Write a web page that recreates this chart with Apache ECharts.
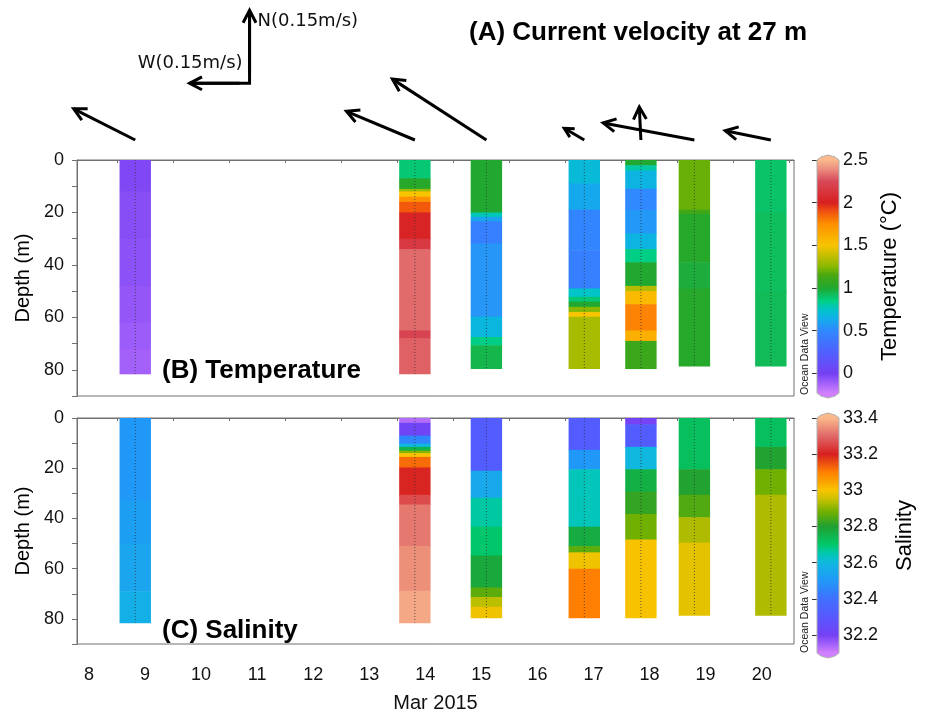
<!DOCTYPE html>
<html lang="en">
<head>
<meta charset="UTF-8">
<title>Current velocity, temperature and salinity - Mar 2015</title>
<script src="https://cdn.jsdelivr.net/npm/echarts@6.0.0/dist/echarts.min.js"></script>
<style>
    html, body { margin: 0; background: #fff; }
    #container { width: 928px; height: 714px; }
</style>
</head>
<body>
<div id="container"></div>
<script>
    // station times (day of Mar 2015) and bottom of each cast (m)
    const stationDay = [9.326, 14.314, 15.59, 17.336, 18.346, 19.30, 20.664];
    const castBottom = [81.5, 81.5, 79.5, 79.5, 79.5, 78.5, 78.5];

    // current at 27 m: east (u) and north (v) components, m/s
    const currentU = [-0.154, -0.171, -0.235, -0.05, -0.004, -0.228, -0.114];
    const currentV = [0.064, 0.059, 0.125, 0.024, 0.068, 0.035, 0.019];

    // temperature layers per station: [top depth, bottom depth, degC]
    const tempLayers = [
        [[0, 12, -0.03], [12, 30, -0.05], [30, 48, -0.06], [48, 62, -0.08], [62, 72, -0.1], [72, 81.5, -0.12]],
        [[0, 7, 0.88], [7, 11, 1.02], [11, 12, 1.3], [12, 14, 1.5], [14, 16, 1.75], [16, 20, 1.88], [20, 30, 2.02],
            [30, 34, 2.15], [34, 65, 2.32], [65, 68, 2.22], [68, 81.5, 2.3]],
        [[0, 20, 1.0], [20, 21.6, 0.78], [21.6, 23.5, 0.6], [23.5, 31.8, 0.45], [31.8, 59.8, 0.55], [59.8, 67.5, 0.68],
            [67.5, 70.6, 0.85], [70.6, 79.5, 0.95]],
        [[0, 8.9, 0.7], [8.9, 19, 0.62], [19, 34.4, 0.48], [34.4, 49, 0.45], [49, 52.2, 0.75], [52.2, 54, 0.88],
            [54, 56, 1.0], [56, 58, 1.25], [58, 59.8, 1.5], [59.8, 79.5, 1.32]],
        [[0, 2, 1.0], [2, 4, 0.8], [4, 11, 0.67], [11, 19, 0.5], [19, 28, 0.56], [28, 34, 0.67], [34, 39, 0.85],
            [39, 48, 1.0], [48, 50, 1.35], [50, 55, 1.55], [55, 65, 1.78], [65, 69, 1.6], [69, 79.5, 1.1]],
        [[0, 19, 1.2], [19, 20.5, 1.12], [20.5, 39, 1.02], [39, 49, 0.98], [49, 78.5, 1.02]],
        [[0, 20, 0.9], [20, 50, 0.92], [50, 78.5, 0.93]]
    ];

    // salinity layers per station: [top depth, bottom depth, salinity]
    const salLayers = [
        [[0, 33, 32.5], [33, 50, 32.52], [50, 69, 32.54], [69, 81.5, 32.57]],
        [[0, 1.9, 32.13], [1.9, 7, 32.22], [7, 10.2, 32.45], [10.2, 11.5, 32.6], [11.5, 13, 32.75], [13, 14, 32.9],
            [14, 15.5, 33.0], [15.5, 19.7, 33.12], [19.7, 30.6, 33.2], [30.6, 34.4, 33.26], [34.4, 51, 33.32],
            [51, 68.8, 33.35], [68.8, 81.5, 33.38]],
        [[0, 21, 32.32], [21, 31.8, 32.55], [31.8, 43.3, 32.66], [43.3, 54.8, 32.7], [54.8, 67.5, 32.78],
            [67.5, 71.3, 32.86], [71.3, 75.2, 32.94], [75.2, 79.5, 32.99]],
        [[0, 12.7, 32.32], [12.7, 20.4, 32.5], [20.4, 43.3, 32.64], [43.3, 51, 32.77], [51, 53.5, 32.86],
            [53.5, 60, 32.99], [60, 79.5, 33.1]],
        [[0, 2.5, 32.2], [2.5, 11.5, 32.32], [11.5, 20.4, 32.6], [20.4, 29.3, 32.76], [29.3, 38.2, 32.82],
            [38.2, 48.4, 32.88], [48.4, 79.5, 33.0]],
        [[0, 20.4, 32.72], [20.4, 30.6, 32.8], [30.6, 39.5, 32.85], [39.5, 49.7, 32.93], [49.7, 78.5, 32.98]],
        [[0, 11.5, 32.72], [11.5, 20.4, 32.8], [20.4, 30.6, 32.88], [30.6, 78.5, 32.93]]
    ];

    // axis ticks and labels
    const dayTicks = [9, 10, 11, 12, 13, 14, 15, 16, 17, 18, 19, 20, 21];
    const dayLabels = [8, 9, 10, 11, 12, 13, 14, 15, 16, 17, 18, 19, 20];
    const depthLabels = [0, 20, 40, 60, 80];
    const depthTicks = [0, 10, 20, 30, 40, 50, 60, 70, 80, 90];
    const tempTicks = [0, 0.5, 1, 1.5, 2, 2.5];
    const salTicks = [32.2, 32.4, 32.6, 32.8, 33, 33.2, 33.4];

    // colour scale ranges and ODV-like palettes
    const dayMin = 8.287, dayMax = 21.077;
    const tempMin = -0.23, tempMax = 2.5;
    const salMin = 32.1, salMax = 33.4;
    const tempStops = [
        [-0.23, '#d080ff'], [0, '#7440f4'], [0.25, '#5060ff'], [0.5, '#3088ff'], [0.65, '#10b0e8'],
        [0.75, '#00c4c8'], [0.85, '#00d084'], [1.0, '#20a830'], [1.15, '#48a810'], [1.25, '#88b800'],
        [1.5, '#f8c400'], [1.75, '#ff9000'], [1.9, '#f05010'], [2.0, '#d82020'], [2.25, '#d84858'],
        [2.4, '#eb9080'], [2.5, '#fbb98c']
    ];
    const salStops = [
        [32.1, '#d080ff'], [32.2, '#7440f4'], [32.3, '#5858ff'], [32.4, '#4070ff'], [32.5, '#2098f8'],
        [32.6, '#10b8e0'], [32.65, '#00c8b0'], [32.7, '#00c868'], [32.8, '#20a030'], [32.88, '#70b000'],
        [32.95, '#c8c000'], [33.0, '#f8c400'], [33.1, '#ff8000'], [33.2, '#d82020'], [33.3, '#e06868'],
        [33.4, '#fbb98c']
    ];

    const kx = 400, ky = 487;       // arrow px per m/s (east, north)
    const barHalf = 15.7;           // half width of a cast column, px
    const font = 'Liberation Sans';

    function hexRgb(h) {
        return [parseInt(h.slice(1, 3), 16), parseInt(h.slice(3, 5), 16), parseInt(h.slice(5, 7), 16)];
    }

    function colorAt(stops, v) {
        if (v <= stops[0][0]) return stops[0][1];
        for (let i = 1; i < stops.length; i++) {
            if (v <= stops[i][0]) {
                const t = (v - stops[i - 1][0]) / (stops[i][0] - stops[i - 1][0]);
                const a = hexRgb(stops[i - 1][1]), b = hexRgb(stops[i][1]);
                const c = a.map((x, k) => Math.round(x + (b[k] - x) * t));
                return 'rgb(' + c.join(',') + ')';
            }
        }
        return stops[stops.length - 1][1];
    }

    function sampleColors(stops, min, max, n) {
        const out = [];
        for (let i = 0; i <= n; i++) out.push(colorAt(stops, min + (max - min) * i / n));
        return out;
    }

    function layerData(layers) {
        const data = [];
        layers.forEach((ls, i) => ls.forEach(l => data.push([stationDay[i], l[0], l[1], l[2]])));
        return data;
    }

    function arrow(x0, y0, x1, y1) {
        const ang = Math.atan2(y1 - y0, x1 - x0);
        const len = Math.min(14, 0.45 * Math.hypot(x1 - x0, y1 - y0));
        const sp = 0.48;
        return [
            {type: 'line', shape: {x1: x0, y1: y0, x2: x1, y2: y1}, style: {stroke: '#000', lineWidth: 3}},
            {
                type: 'polyline',
                shape: {
                    points: [[x1 - len * Math.cos(ang - sp), y1 - len * Math.sin(ang - sp)], [x1, y1],
                        [x1 - len * Math.cos(ang + sp), y1 - len * Math.sin(ang + sp)]]
                },
                style: {stroke: '#000', lineWidth: 3, fill: null, lineJoin: 'miter'}
            }
        ];
    }

    function renderLayer(params, api) {
        const a = api.coord([api.value(0), api.value(1)]);
        const b = api.coord([api.value(0), api.value(2)]);
        return {
            type: 'rect',
            shape: {x: a[0] - barHalf, y: a[1], width: barHalf * 2, height: b[1] - a[1] + 0.6},
            style: {fill: api.visual('color')}
        };
    }

    function renderCast(params, api) {
        const a = api.coord([api.value(0), 0]);
        const b = api.coord([api.value(0), api.value(1)]);
        return {
            type: 'line',
            shape: {x1: a[0], y1: a[1], x2: b[0], y2: b[1]},
            style: {stroke: '#333', lineWidth: 1, lineDash: [1, 2], opacity: 0.75}
        };
    }

    function colorBar(stops, min, max) {
        return function (params, api) {
            const cs = params.coordSys;
            const top = api.coord([0, max])[1], bottom = api.coord([0, min])[1];
            const x0 = cs.x, x1 = cs.x + cs.width, xc = cs.x + cs.width / 2;
            const grad = stops.map(s => ({offset: (max - s[0]) / (max - min), color: s[1]})).reverse();
            const outline = [[x0, top], [x0 + 4, top - 3], [xc, top - 5], [x1 - 4, top - 3], [x1, top],
                [x1, bottom], [x1 - 4, bottom + 3], [xc, bottom + 5], [x0 + 4, bottom + 3], [x0, bottom]];
            return {
                type: 'group',
                children: [
                    {type: 'polygon', shape: {points: outline.slice(0, 5)}, style: {fill: stops[stops.length - 1][1]}},
                    {type: 'polygon', shape: {points: outline.slice(5)}, style: {fill: stops[0][1]}},
                    {
                        type: 'rect', shape: {x: x0, y: top, width: x1 - x0, height: bottom - top},
                        style: {fill: new echarts.graphic.LinearGradient(0, 0, 0, 1, grad)}
                    },
                    {type: 'polygon', shape: {points: outline}, style: {fill: null, stroke: '#b0b0b0', lineWidth: 1}}
                ]
            };
        };
    }

    const dom = document.getElementById('container');
    const myChart = echarts.init(dom, null, {renderer: 'canvas'});

    const depthAxis = function (gridIndex) {
        return {
            type: 'value', gridIndex: gridIndex, inverse: true, min: 0, max: 90,
            name: 'Depth (m)', nameLocation: 'middle', nameGap: 41, nameRotate: 90,
            nameTextStyle: {fontFamily: font, fontSize: 20, color: '#000'},
            axisLine: {show: true, lineStyle: {color: '#707070'}},
            axisTick: {show: true, length: 5, customValues: depthTicks, lineStyle: {color: '#707070'}},
            axisLabel: {customValues: depthLabels, margin: 13, fontFamily: font, fontSize: 18, color: '#111'},
            splitLine: {show: false}
        };
    };

    const cbarAxis = function (gridIndex, min, max, ticks, name, right, gap) {
        return {
            type: 'value', gridIndex: gridIndex, min: min, max: max, position: right ? 'right' : 'left',
            name: right ? name : '', nameLocation: 'middle', nameGap: gap, nameRotate: 90,
            nameTextStyle: {fontFamily: font, fontSize: 22, color: '#000'},
            axisLine: {show: false},
            axisTick: {show: true, inside: true, length: 5, customValues: ticks, lineStyle: {color: '#333'}},
            axisLabel: {
                show: right, customValues: ticks, margin: 4, fontFamily: font, fontSize: 18, color: '#111',
                formatter: v => String(+v.toFixed(2))
            },
            splitLine: {show: false}
        };
    };

    const option = {
        animation: false,
        backgroundColor: '#fff',
        title: [
            {
                text: '(A) Current velocity at 27 m', left: 469, top: 20, padding: 0,
                textStyle: {fontFamily: font, fontSize: 26, fontWeight: 'bold', color: '#000'}
            },
            {
                text: '(B) Temperature', left: 162, top: 358, padding: 0,
                textStyle: {fontFamily: font, fontSize: 26, fontWeight: 'bold', color: '#000'}
            },
            {
                text: '(C) Salinity', left: 162, top: 618, padding: 0,
                textStyle: {fontFamily: font, fontSize: 26, fontWeight: 'bold', color: '#000'}
            }
        ],
        graphic: [
            {
                type: 'text', x: 811, y: 395, rotation: Math.PI / 2,
                style: {text: 'Ocean Data View', font: '10.5px "Liberation Sans"', fill: '#222', textVerticalAlign: 'bottom'}
            },
            {
                type: 'text', x: 811, y: 653, rotation: Math.PI / 2,
                style: {text: 'Ocean Data View', font: '10.5px "Liberation Sans"', fill: '#222', textVerticalAlign: 'bottom'}
            }
        ],
        grid: [
            {left: 77, right: 134, top: 10, height: 130},
            {left: 77, right: 134, top: 160, height: 236, show: true, borderColor: '#707070', borderWidth: 1},
            {left: 77, right: 134, top: 418, height: 236, show: true, borderColor: '#707070', borderWidth: 1},
            {left: 817, width: 22, top: 160, height: 233},
            {left: 817, width: 22, top: 418, height: 235}
        ],
        xAxis: [
            {type: 'value', gridIndex: 0, min: dayMin, max: dayMax, show: false},
            {
                type: 'value', gridIndex: 1, min: dayMin, max: dayMax,
                axisLine: {show: true, lineStyle: {color: '#707070'}},
                axisTick: {show: true, length: 3, customValues: dayTicks, lineStyle: {color: '#707070'}},
                axisLabel: {show: false},
                splitLine: {show: false}
            },
            {
                type: 'value', gridIndex: 2, min: dayMin, max: dayMax,
                name: 'Mar 2015', nameLocation: 'middle', nameGap: 49,
                nameTextStyle: {fontFamily: font, fontSize: 20, color: '#111'},
                axisLine: {show: true, lineStyle: {color: '#707070'}},
                axisTick: {show: true, length: 3, customValues: dayTicks, lineStyle: {color: '#707070'}},
                axisLabel: {
                    customValues: dayLabels.map(d => d + 0.5), margin: 22,
                    fontFamily: font, fontSize: 18, color: '#111',
                    formatter: v => String(Math.floor(v))
                },
                splitLine: {show: false}
            },
            {type: 'value', gridIndex: 3, min: 0, max: 1, show: false},
            {type: 'value', gridIndex: 4, min: 0, max: 1, show: false}
        ],
        yAxis: [
            {type: 'value', gridIndex: 0, min: 0, max: 1, show: false},
            depthAxis(1),
            depthAxis(2),
            cbarAxis(3, tempMin, tempMax, tempTicks, 'Temperature (°C)', true, 40),
            cbarAxis(3, tempMin, tempMax, tempTicks, '', false, 0),
            cbarAxis(4, salMin, salMax, salTicks, 'Salinity', true, 55),
            cbarAxis(4, salMin, salMax, salTicks, '', false, 0)
        ],
        visualMap: [
            {
                type: 'continuous', show: false, seriesIndex: 2, dimension: 3, min: tempMin, max: tempMax,
                inRange: {color: sampleColors(tempStops, tempMin, tempMax, 120)}
            },
            {
                type: 'continuous', show: false, seriesIndex: 4, dimension: 3, min: salMin, max: salMax,
                inRange: {color: sampleColors(salStops, salMin, salMax, 120)}
            }
        ],
        series: [
            {
                // current vectors at 27 m
                type: 'custom', xAxisIndex: 0, yAxisIndex: 0, clip: false,
                data: stationDay.map((d, i) => [d, 0, currentU[i], currentV[i]]),
                renderItem: function (params, api) {
                    const p = api.coord([api.value(0), api.value(1)]);
                    return {
                        type: 'group',
                        children: arrow(p[0], p[1], p[0] + api.value(2) * kx, p[1] - api.value(3) * ky)
                    };
                }
            },
            {
                // scale arrows: 0.15 m/s north and west
                type: 'custom', xAxisIndex: 0, yAxisIndex: 0, clip: false,
                data: [[11.365, 0.436, 0.15]],
                renderItem: function (params, api) {
                    const p = api.coord([api.value(0), api.value(1)]);
                    const s = api.value(2);
                    const nTip = [p[0], p[1] - s * ky], wTip = [p[0] - s * kx, p[1]];
                    return {
                        type: 'group',
                        children: [
                            {
                                type: 'polyline', shape: {points: [nTip, p, wTip]},
                                style: {stroke: '#000', lineWidth: 3, fill: null, lineJoin: 'miter'}
                            }
                        ].concat(arrow(p[0], p[1] - 10, nTip[0], nTip[1]))
                            .concat(arrow(p[0] - 10, p[1], wTip[0], wTip[1]))
                            .concat([
                                {
                                    type: 'text', x: p[0] + 8, y: nTip[1] + 11,
                                    style: {
                                        text: 'N(0.15m/s)', font: '18px "DejaVu Sans"', fill: '#111',
                                        textVerticalAlign: 'middle'
                                    }
                                },
                                {
                                    type: 'text', x: p[0] - 7, y: p[1] - 20,
                                    style: {
                                        text: 'W(0.15m/s)', font: '18px "DejaVu Sans"', fill: '#111',
                                        textAlign: 'right', textVerticalAlign: 'middle'
                                    }
                                }
                            ])
                    };
                }
            },
            {
                type: 'custom', xAxisIndex: 1, yAxisIndex: 1,
                data: layerData(tempLayers), renderItem: renderLayer
            },
            {
                type: 'custom', xAxisIndex: 1, yAxisIndex: 1,
                data: stationDay.map((d, i) => [d, castBottom[i]]), renderItem: renderCast
            },
            {
                type: 'custom', xAxisIndex: 2, yAxisIndex: 2,
                data: layerData(salLayers), renderItem: renderLayer
            },
            {
                type: 'custom', xAxisIndex: 2, yAxisIndex: 2,
                data: stationDay.map((d, i) => [d, castBottom[i]]), renderItem: renderCast
            },
            {
                type: 'custom', xAxisIndex: 3, yAxisIndex: 3, clip: false,
                data: [[0.5, tempMin]], renderItem: colorBar(tempStops, tempMin, tempMax)
            },
            {
                type: 'custom', xAxisIndex: 4, yAxisIndex: 5, clip: false,
                data: [[0.5, salMin]], renderItem: colorBar(salStops, salMin, salMax)
            }
        ]
    };

    myChart.setOption(option);

    window.onresize = function () {
        myChart.resize();
    }
</script>
</body>
</html>
